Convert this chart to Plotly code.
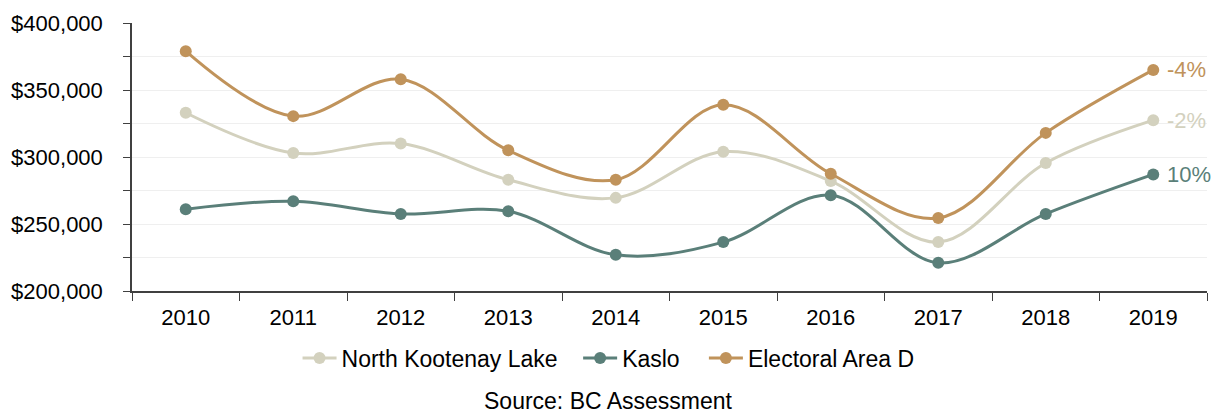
import plotly.graph_objects as go

years = ["2010", "2011", "2012", "2013", "2014", "2015", "2016", "2017", "2018", "2019"]
north_kootenay_lake = [333000, 303000, 310000, 283000, 269500, 304000, 282000, 236500, 295500, 327500]
kaslo = [261000, 267000, 257500, 259500, 227000, 236500, 271500, 221000, 257500, 287000]
electoral_area_d = [379000, 330500, 358000, 305000, 283000, 339000, 287500, 254500, 318000, 365000]
change_labels = {"North Kootenay Lake": "-2%", "Kaslo": "10%", "Electoral Area D": "-4%"}

series = [
    ("North Kootenay Lake", north_kootenay_lake, "#D3D1BE", "legend", 0.154),
    ("Kaslo", kaslo, "#5A7F79", "legend2", 0.415),
    ("Electoral Area D", electoral_area_d, "#C0935B", "legend3", 0.532),
]

FONT = "Liberation Sans, Arial, sans-serif"
FS = 22

fig = go.Figure()
legends = {}
for name, vals, color, leg, lx in series:
    fig.add_trace(go.Scatter(
        x=years, y=vals, name=name, legend=leg,
        mode="lines+markers",
        line=dict(color=color, width=3, shape="spline", smoothing=1.0),
        marker=dict(color=color, size=12),
    ))
    # percent change label next to the last point (x given as category index)
    fig.add_annotation(
        x=len(years) - 1, y=vals[-1], text=change_labels[name],
        xref="x", yref="y", xanchor="left", yanchor="middle",
        xshift=12, showarrow=False,
        font=dict(family=FONT, size=FS, color=color),
    )
    legends[leg] = dict(
        orientation="h", x=lx, y=-0.17, xanchor="left", yanchor="top",
        font=dict(family=FONT, size=23, color="#000000"),
        itemwidth=34, bgcolor="rgba(0,0,0,0)",
    )

fig.add_annotation(
    x=0.4437, y=-0.41, xref="paper", yref="paper",
    text="Source: BC Assessment", showarrow=False,
    xanchor="center", yanchor="middle",
    font=dict(family=FONT, size=23, color="#000000"),
)

fig.update_layout(
    width=1222, height=414,
    margin=dict(l=132, r=15, t=23, b=123),
    paper_bgcolor="white", plot_bgcolor="white",
    font=dict(family=FONT, size=FS, color="#000000"),
    showlegend=True,
    xaxis=dict(
        type="category", range=[-0.5, 9.5],
        showline=True, linecolor="#404040", linewidth=1.5,
        ticks="outside", tickson="boundaries", ticklen=8, tickcolor="#404040",
        showgrid=False, tickfont=dict(size=FS), ticklabelstandoff=6,
    ),
    yaxis=dict(
        range=[200000, 400000], dtick=50000, tick0=200000,
        tickprefix="$", tickformat=",d",
        showline=True, linecolor="#404040", linewidth=1.5,
        ticks="outside", ticklen=7, tickcolor="#404040",
        showgrid=True, gridcolor="#EFEFEF", gridwidth=1,
        zeroline=False, tickfont=dict(size=FS), ticklabelstandoff=16,
        minor=dict(dtick=25000, ticks="outside", ticklen=7, tickcolor="#404040",
                   showgrid=True, gridcolor="#EFEFEF"),
    ),
    **legends,
)

fig.write_html("out.html")
